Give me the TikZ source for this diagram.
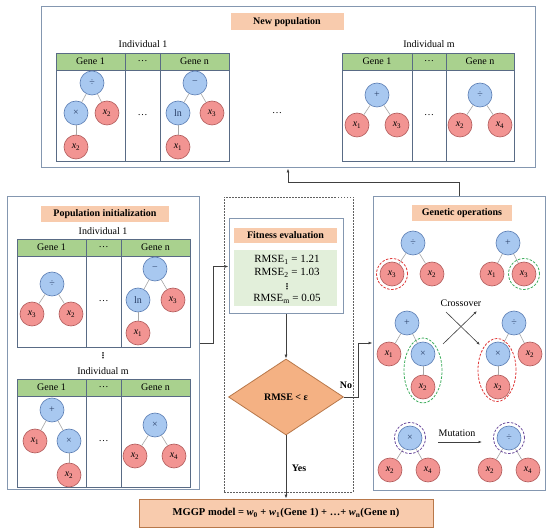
\documentclass[tikz,border=0pt]{standalone}
\usepackage{fontspec}
\setmainfont{Liberation Serif}
\newfontfamily\dvs{DejaVu Sans}
\usetikzlibrary{shapes.geometric,arrows.meta,calc}
\definecolor{opf}{HTML}{A8C8F0}
\definecolor{opb}{HTML}{5B7DB3}
\definecolor{optx}{HTML}{2A4068}
\definecolor{varf}{HTML}{F29492}
\definecolor{varb}{HTML}{B05A5A}
\definecolor{hdr}{HTML}{A9D18E}
\definecolor{lblf}{HTML}{F8CBAD}
\definecolor{fitg}{HTML}{E2EFDA}
\definecolor{diaf}{HTML}{F4B183}
\definecolor{diab}{HTML}{B8784A}
\definecolor{boxc}{HTML}{8497B0}
\definecolor{tabc}{HTML}{596B85}
\definecolor{edgec}{HTML}{A6A6A6}
\definecolor{conc}{HTML}{404040}
\definecolor{dotc}{HTML}{606060}
\definecolor{redd}{HTML}{E03A3A}
\definecolor{grnd}{HTML}{3FAE5E}
\definecolor{purd}{HTML}{6E4E9E}
\newcommand\xv[1]{\textit{x}\textsubscript{#1}}
\newcommand\genetab[8]{%
  \fill[hdr] (#2,#6) rectangle (#5,#7);
  \draw[tab] (#2,#6) rectangle (#5,#8);
  \draw[tab] (#2,#7) -- (#5,#7);
  \draw[tab] (#3,#6) -- (#3,#8);
  \draw[tab] (#4,#6) -- (#4,#8);
  \node[txt] (#1h1) at ({(#2+#3)/2},{(#6+#7)/2}) {Gene 1};
  \node[txt] (#1hd) at ({(#3+#4)/2},{(#6+#7)/2}) {…};
  \node[txt] (#1hn) at ({(#4+#5)/2},{(#6+#7)/2}) {Gene n};
  \node[txt] (#1bd) at ({(#3+#4)/2},{(#7+#8)/2}) {…};
}
\begin{document}
\begin{tikzpicture}[x=1pt,y=-1pt,
  op/.style={circle,draw=opb,fill=opf,line width=0.6pt,minimum size=24pt,inner sep=0pt,text=optx,font=\fontsize{10}{10}\selectfont},
  var/.style={circle,draw=varb,fill=varf,line width=0.6pt,minimum size=24pt,inner sep=0pt,font=\fontsize{10}{10}\selectfont},
  te/.style={draw=edgec,line width=0.6pt},
  tab/.style={draw=tabc,line width=0.7pt},
  box/.style={draw=boxc,line width=1pt,inner sep=0pt},
  lbl/.style={fill=lblf,font=\bfseries\fontsize{10}{12}\selectfont,inner sep=0pt},
  txt/.style={font=\fontsize{10}{12}\selectfont,inner sep=0pt},
  vd/.style={font=\dvs\bfseries\fontsize{8}{8}\selectfont,inner sep=0pt},
  arr/.style={draw=conc,line width=0.8pt,-{Latex[length=4pt,width=3pt]}},
  thinarr/.style={draw=conc,line width=0.6pt,-{Latex[length=3.5pt,width=2.5pt]}},
  dsh/.style={circle,dash pattern=on 2.5pt off 1.5pt,line width=0.8pt,minimum size=31pt,inner sep=0pt},
  dshe/.style={ellipse,dash pattern=on 2.5pt off 1.5pt,line width=0.8pt,inner sep=0pt}
]
\useasboundingbox (0,0) rectangle (550,532);
\fill[white] (0,0) rectangle (550,532);

% ===== New population =====
\node[box,minimum width=494pt,minimum height=161pt] (topbox) at (288,87.5) {};
\node[lbl,minimum width=113pt,minimum height=17pt] (newpop) at (287,22) {New population};
\node[txt] (ind1a) at (143,44) {Individual 1};
\genetab{ta}{56}{125}{160}{229}{53}{70}{161}
\node[op] (a1r) at (92,83) {÷};
\node[op] (a1m) at (76,113) {×};
\node[var] (a1x) at (107,113) {\xv2};
\node[var] (a1y) at (76,147) {\xv2};
\draw[te] (a1r) -- (a1m); \draw[te] (a1r) -- (a1x); \draw[te] (a1m) -- (a1y);
\node[op] (anr) at (195,83) {−};
\node[op] (anl) at (178,113) {ln};
\node[var] (anx) at (212,113) {\xv3};
\node[var] (any) at (178,147) {\xv1};
\draw[te] (anr) -- (anl); \draw[te] (anr) -- (anx); \draw[te] (anl) -- (any);
\node[txt] (midd) at (277,113) {…};
\node[txt] (indma) at (429,44) {Individual m};
\genetab{tb}{342}{412}{446}{514}{53}{70}{161}
\node[op] (b1r) at (377,95) {+};
\node[var] (b1x) at (357,125) {\xv1};
\node[var] (b1y) at (397,125) {\xv3};
\draw[te] (b1r) -- (b1x); \draw[te] (b1r) -- (b1y);
\node[op] (bnr) at (480,95) {÷};
\node[var] (bnx) at (460,125) {\xv2};
\node[var] (bny) at (500,125) {\xv4};
\draw[te] (bnr) -- (bnx); \draw[te] (bnr) -- (bny);

% ===== Population initialization =====
\node[box,minimum width=192pt,minimum height=292pt] (popbox) at (103,343) {};
\node[lbl,minimum width=128pt,minimum height=16pt] (popl) at (105,214) {Population initialization};
\node[txt] (ind1c) at (103,231) {Individual 1};
\genetab{tc}{17}{86}{121}{190}{239}{256}{347}
\node[op] (c1r) at (52,284) {÷};
\node[var] (c1x) at (32,314) {\xv3};
\node[var] (c1y) at (71,314) {\xv2};
\draw[te] (c1r) -- (c1x); \draw[te] (c1r) -- (c1y);
\node[op] (cnr) at (155,269) {−};
\node[op] (cnl) at (138,300) {ln};
\node[var] (cnx) at (173,300) {\xv3};
\node[var] (cny) at (138,333) {\xv1};
\draw[te] (cnr) -- (cnl); \draw[te] (cnr) -- (cnx); \draw[te] (cnl) -- (cny);
\node[vd] (vdp) at (103,356) {⋮};
\node[txt] (indmc) at (103,371) {Individual m};
\genetab{td}{17}{86}{121}{190}{379}{396}{487}
\node[op] (d1r) at (52,410) {+};
\node[var] (d1x) at (35,441) {\xv1};
\node[op] (d1m) at (69,441) {×};
\node[var] (d1y) at (69,475) {\xv2};
\draw[te] (d1r) -- (d1x); \draw[te] (d1r) -- (d1m); \draw[te] (d1m) -- (d1y);
\node[op] (dnr) at (155,425) {×};
\node[var] (dnx) at (135,456) {\xv2};
\node[var] (dny) at (174,456) {\xv4};
\draw[te] (dnr) -- (dnx); \draw[te] (dnr) -- (dny);

% ===== Fitness evaluation =====
\node[draw=dotc,dash pattern=on 1.5pt off 1.5pt,line width=0.6pt,minimum width=129pt,minimum height=295pt,inner sep=0pt] (dotbox) at (288.5,344.5) {};
\node[box,fill=white,minimum width=114pt,minimum height=95pt] (fitbox) at (286,266.5) {};
\node[lbl,minimum width=103pt,minimum height=15pt] (fitl) at (285.5,235.5) {Fitness evaluation};
\node[fill=fitg,minimum width=103pt,minimum height=56pt,inner sep=0pt] (fitg) at (285.5,278) {};
\node[font=\fontsize{11}{12}\selectfont,inner sep=0pt] (r1) at (287,260) {RMSE\textsubscript{1} = 1.21};
\node[font=\fontsize{11}{12}\selectfont,inner sep=0pt] (r2) at (287,273) {RMSE\textsubscript{2} = 1.03};
\node[vd] (r3) at (287,286.5) {⋮};
\node[font=\fontsize{11}{12}\selectfont,inner sep=0pt] (r4) at (287,299) {RMSE\textsubscript{m} = 0.05};
\node[diamond,draw=diab,fill=diaf,line width=0.8pt,minimum width=115pt,minimum height=76pt,inner sep=0pt,font=\bfseries\fontsize{10}{12}\selectfont] (dia) at (286,397) {RMSE < ε};

% ===== MGGP model =====
\node[draw=diab,fill=lblf,line width=0.8pt,minimum width=294pt,minimum height=28pt,inner sep=0pt,font=\bfseries\fontsize{10.5}{12}\selectfont] (mggp) at (286,513) {MGGP model = \textit{w}\textsubscript{0} + \textit{w}\textsubscript{1}(Gene 1) + …+ \textit{w}\textsubscript{n}(Gene n)};

% ===== Genetic operations =====
\node[box,minimum width=172pt,minimum height=293pt] (genbox) at (459,343.5) {};
\node[lbl,minimum width=100pt,minimum height=16pt] (genl) at (462,213) {Genetic operations};
\node[op] (g1r) at (413,243) {÷};
\node[var] (g1x) at (392,274) {\xv3};
\node[var] (g1y) at (432,274) {\xv2};
\draw[te] (g1r) -- (g1x); \draw[te] (g1r) -- (g1y);
\node[dsh,draw=redd] (g1c) at (392,274) {};
\node[op] (g2r) at (508,243) {+};
\node[var] (g2x) at (492,274) {\xv1};
\node[var] (g2y) at (524,274) {\xv3};
\draw[te] (g2r) -- (g2x); \draw[te] (g2r) -- (g2y);
\node[dsh,draw=grnd] (g2c) at (524,274) {};
\node[txt] (cross) at (461,303) {Crossover};
\coordinate (c1s) at (443,344); \coordinate (c1e) at (477,311);
\coordinate (c2s) at (446,312); \coordinate (c2e) at (480,345);
\draw[thinarr] (c1s) -- (c1e);
\draw[thinarr] (c2s) -- (c2e);
\node[op] (g3r) at (407,323) {+};
\node[var] (g3x) at (389,354) {\xv1};
\node[op] (g3m) at (423,354) {×};
\node[var] (g3y) at (423,387) {\xv2};
\draw[te] (g3r) -- (g3x); \draw[te] (g3r) -- (g3m); \draw[te] (g3m) -- (g3y);
\node[dshe,draw=grnd,minimum width=38pt,minimum height=65pt] (g3e) at (423,370.5) {};
\node[op] (g4r) at (514,323) {÷};
\node[op] (g4m) at (498,354) {×};
\node[var] (g4x) at (530,354) {\xv2};
\node[var] (g4y) at (498,387) {\xv2};
\draw[te] (g4r) -- (g4m); \draw[te] (g4r) -- (g4x); \draw[te] (g4m) -- (g4y);
\node[dshe,draw=redd,minimum width=38pt,minimum height=63pt] (g4e) at (497,370) {};
\node[op] (g5r) at (410,438) {×};
\node[var] (g5x) at (390,470) {\xv2};
\node[var] (g5y) at (428,470) {\xv4};
\draw[te] (g5r) -- (g5x); \draw[te] (g5r) -- (g5y);
\node[dsh,draw=purd] (g5c) at (410,438) {};
\node[txt] (mut) at (457,433) {Mutation};
\coordinate (m1) at (438,442); \coordinate (m2) at (482,442);
\draw[thinarr] (m1) -- (m2);
\node[op] (g6r) at (509,438) {÷};
\node[var] (g6x) at (490,470) {\xv2};
\node[var] (g6y) at (528,470) {\xv4};
\draw[te] (g6r) -- (g6x); \draw[te] (g6r) -- (g6y);
\node[dsh,draw=purd] (g6c) at (509,438) {};

% ===== connectors =====
\coordinate (j1) at (213,343);
\draw[arr] (popbox.east |- j1) -- (j1) |- (fitbox.west);
\draw[arr] (fitbox.south) -- (dia.north);
\draw[arr] (dia.south) -- (mggp.north);
\node[font=\bfseries\fontsize{10}{12}\selectfont,inner sep=0pt] (yes) at (299,468) {Yes};
\coordinate (j2) at (358,343);
\draw[arr] (dia.east) -| (j2) -- (genbox.west |- j2);
\node[font=\bfseries\fontsize{10}{12}\selectfont,inner sep=0pt] (no) at (346,385) {No};
\coordinate (j3) at (288,182);
\draw[arr] (genbox.north) |- (j3) -- (topbox.south);
\end{tikzpicture}
\end{document}
